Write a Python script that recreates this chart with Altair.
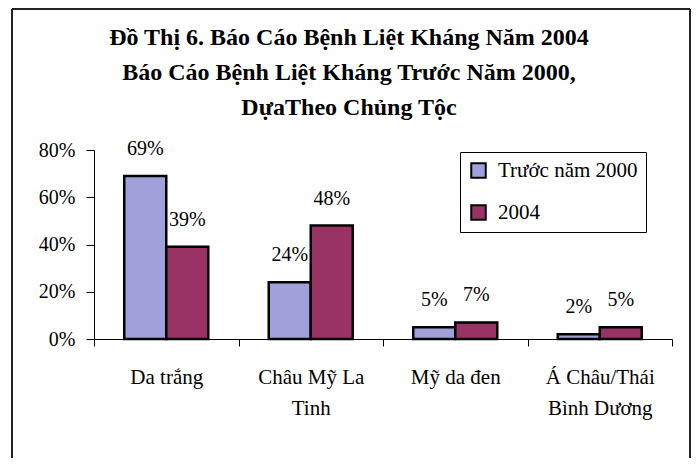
import altair as alt
import pandas as pd

categories = ["Da trắng", "Châu Mỹ La|Tinh", "Mỹ da đen", "Á Châu/Thái|Bình Dương"]
series = ["Trước năm 2000", "2004"]
before_2000 = [0.69, 0.24, 0.05, 0.02]
year_2004 = [0.39, 0.48, 0.07, 0.05]
y_ticks = [0, 0.2, 0.4, 0.6, 0.8]
title_lines = [
    "Đồ Thị 6. Báo Cáo Bệnh Liệt Kháng Năm 2004",
    "Báo Cáo Bệnh Liệt Kháng Trước Năm 2000,",
    "DựaTheo Chủng Tộc",
]

rows = []
for i, c in enumerate(categories):
    rows.append({"cat": c, "series": series[0], "value": before_2000[i]})
    rows.append({"cat": c, "series": series[1], "value": year_2004[i]})
df = pd.DataFrame(rows)

FONT = "Liberation Serif"
W, H = 578, 189
BLUE = "#a0a0da"
MAG = "#993366"

x_enc = alt.X(
    "cat:N",
    sort=categories,
    scale=alt.Scale(paddingInner=0, paddingOuter=0),
    axis=alt.Axis(
        title=None, labelAngle=0, tickBand="extent",
        labelExpr="split(datum.label, '|')",
        labelFont=FONT, labelFontSize=21, labelColor="black",
        labelLineHeight=31, labelPadding=20, labelBaseline="top",
        tickSize=7, tickColor="black", domainColor="black",
        labelFlush=False, labelOverlap=False,
    ),
)
xoff = alt.XOffset("series:N", sort=series,
                   scale=alt.Scale(paddingOuter=0.72, paddingInner=0))
y_enc = alt.Y(
    "value:Q",
    scale=alt.Scale(domain=[0, 0.8]),
    axis=alt.Axis(
        title=None, values=y_ticks, format=".0%", grid=False,
        labelFont=FONT, labelFontSize=20, labelColor="black",
        tickSize=8, labelPadding=11, tickColor="black", domainColor="black",
    ),
)

bars = alt.Chart(df).mark_bar(stroke="black", strokeWidth=2.5).encode(
    x=x_enc,
    xOffset=xoff,
    y=y_enc,
    color=alt.Color(
        "series:N", sort=series,
        scale=alt.Scale(domain=series, range=[BLUE, MAG]),
        legend=alt.Legend(
            orient="none", legendX=366, legendY=2, title=None,
            fillColor="white", strokeColor="black", padding=8,
            symbolType="square", symbolSize=210, symbolStrokeColor="black",
            symbolStrokeWidth=2, symbolOpacity=1,
            labelFont=FONT, labelFontSize=21, labelColor="black",
            rowPadding=19, labelOffset=9,
        ),
    ),
)

labels = alt.Chart(df).mark_text(
    font=FONT, fontSize=20, color="black", baseline="alphabetic", dy=-21
).encode(
    x=alt.X("cat:N", sort=categories),
    xOffset=alt.XOffset("series:N", sort=series),
    y="value:Q",
    text=alt.Text("value:Q", format=".0%"),
)

one = pd.DataFrame({"k": [0]})
frame_left = alt.Chart(one).mark_rule(color="#222", strokeWidth=2).encode(
    x=alt.value(-82), y=alt.value(-141), y2=alt.value(310))
frame_top = alt.Chart(one).mark_rule(color="#222", strokeWidth=2).encode(
    x=alt.value(-82), x2=alt.value(596), y=alt.value(-141))
frame_right = alt.Chart(one).mark_rule(color="#222", strokeWidth=2).encode(
    x=alt.value(596), y=alt.value(-141), y2=alt.value(310))

title_layers = []
for i, line in enumerate(title_lines):
    t = alt.Chart(pd.DataFrame({"t": [line]})).mark_text(
        font=FONT, fontSize=24, fontWeight="bold", color="black",
        align="center", baseline="alphabetic",
    ).encode(text="t:N", x=alt.value(255), y=alt.value(-105 + 35 * i))
    title_layers.append(t)

chart = alt.layer(frame_left, frame_top, frame_right, *title_layers, bars, labels).properties(
    width=W, height=H,
    autosize=alt.AutoSizeParams(type="none"),
    padding={"left": 86, "top": 142, "right": 19, "bottom": 119},
).configure_view(stroke=None)

chart.save("out.html", embed_options={"renderer": "svg", "actions": False})
